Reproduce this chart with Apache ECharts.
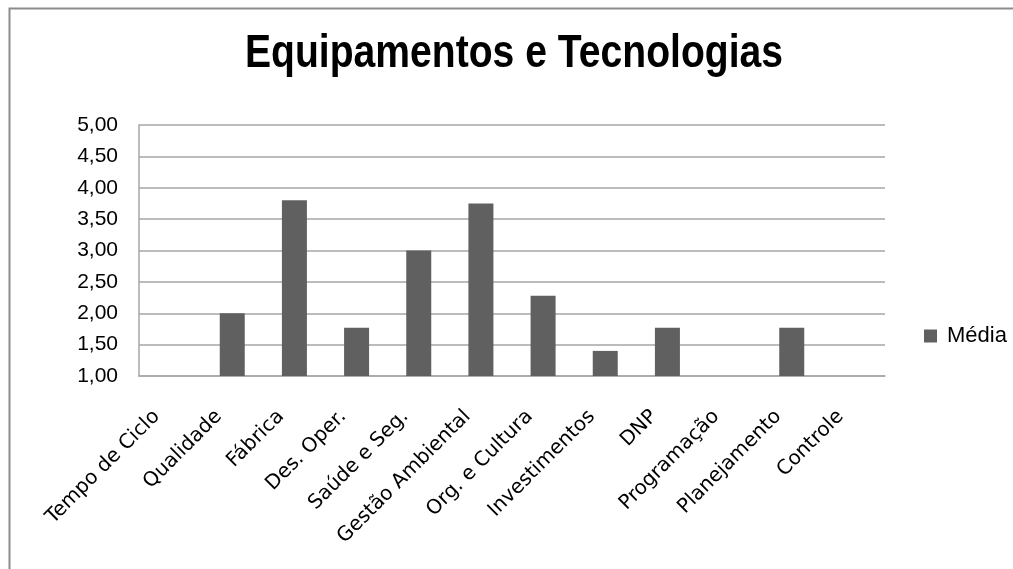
<!DOCTYPE html>
<html>
<head>
<meta charset="utf-8">
<script src="https://cdn.jsdelivr.net/npm/echarts@6/dist/echarts.min.js"></script>
<style>
  html, body { margin: 0; padding: 0; background: #fff; }
  #main { width: 1013px; height: 569px; }
</style>
</head>
<body>
<div id="main"></div>
<script>
// categorias do eixo x
var categorias = ['Tempo de Ciclo', 'Qualidade', 'Fábrica', 'Des. Oper.', 'Saúde e Seg.', 'Gestão Ambiental',
  'Org. e Cultura', 'Investimentos', 'DNP', 'Programação', 'Planejamento', 'Controle'];
// valores da série Média (sem barra = null)
var media = [null, 2.00, 3.80, 1.77, 3.00, 3.75, 2.28, 1.40, 1.77, null, 1.77, null];
var yMin = 1, yMax = 5, yStep = 0.5;
var titulo = 'Equipamentos e Tecnologias';

var myChart = echarts.init(document.getElementById('main'));

var option = {
  animation: false,
  backgroundColor: '#fff',
  graphic: [{
    type: 'rect',
    shape: { x: 9.5, y: 8.5, width: 1100, height: 700 },
    style: { fill: 'none', stroke: '#8c8c8c', lineWidth: 2 },
    silent: true
  }, {
    // título em fonte estreita (simulada com scaleX)
    type: 'text',
    x: 514,
    y: 31,
    scaleX: 0.85,
    style: {
      text: titulo,
      align: 'center',
      verticalAlign: 'top',
      fontFamily: '"Liberation Sans", Arial',
      fontWeight: 'bold',
      fontSize: 46,
      fill: '#000'
    },
    silent: true
  }],
  legend: {
    data: ['Média'],
    left: 919,
    top: 320,
    icon: 'rect',
    itemWidth: 13,
    itemHeight: 13,
    textStyle: {
      fontFamily: '"Liberation Sans", Arial',
      fontSize: 22,
      color: '#000',
      padding: [0, 0, 0, 5]
    }
  },
  grid: {
    left: 139,
    right: 128,
    top: 125,
    bottom: 193
  },
  xAxis: {
    type: 'category',
    data: categorias,
    axisTick: { show: false },
    axisLine: { lineStyle: { color: '#a6a6a6', width: 1.5 } },
    axisLabel: {
      interval: 0,
      rotate: 45,
      margin: 24,
      padding: [0, 19, 0, 0],
      fontFamily: '"DejaVu Sans", Verdana, sans-serif',
      fontSize: 20,
      color: '#000'
    }
  },
  yAxis: {
    type: 'value',
    min: yMin,
    max: yMax,
    interval: yStep,
    axisLine: { show: true, lineStyle: { color: '#a6a6a6', width: 1.5 } },
    axisTick: { show: false },
    splitLine: { lineStyle: { color: '#a6a6a6', width: 1.5 } },
    axisLabel: {
      margin: 21,
      fontFamily: '"Liberation Sans", Arial',
      fontSize: 21,
      color: '#000',
      formatter: function (v) { return v.toFixed(2).replace('.', ','); }
    }
  },
  series: [{
    name: 'Média',
    type: 'bar',
    data: media,
    barWidth: 25,
    itemStyle: { color: '#606060' }
  }]
};

myChart.setOption(option);
</script>
</body>
</html>
